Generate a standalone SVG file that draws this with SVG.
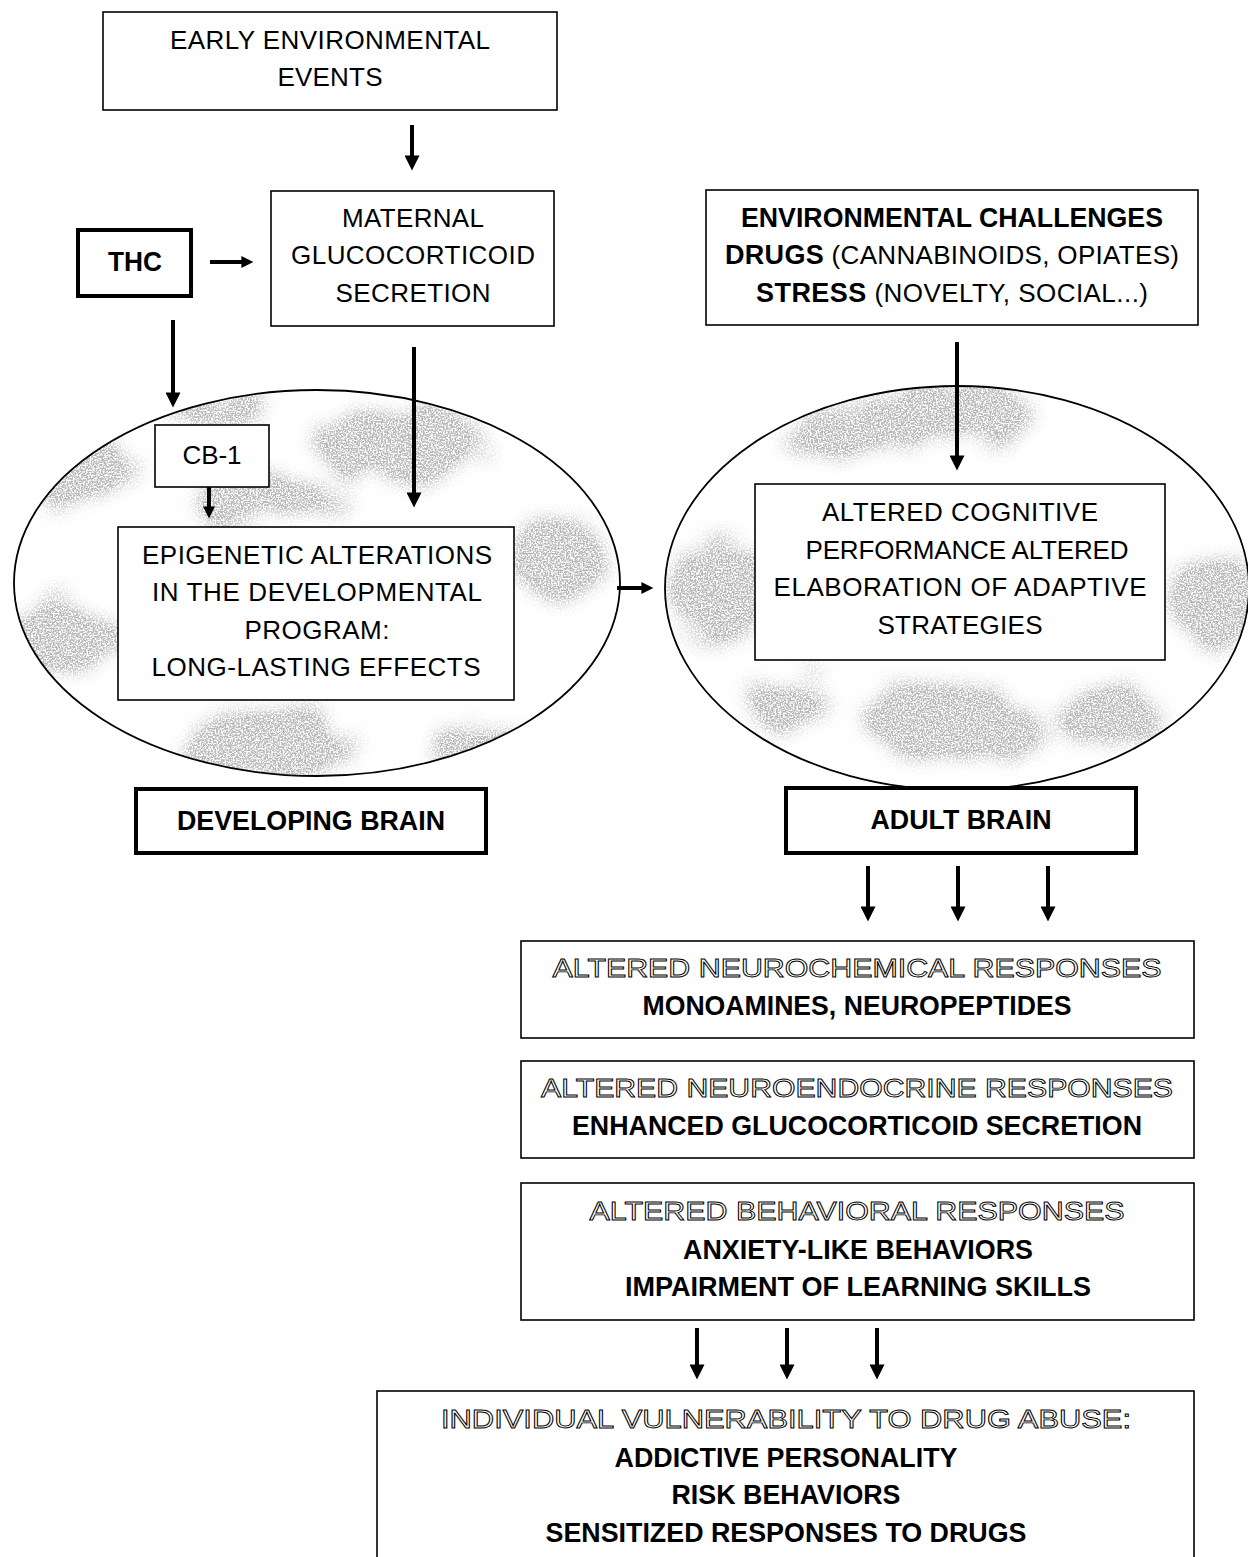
<svg xmlns="http://www.w3.org/2000/svg" width="1248" height="1557" viewBox="0 0 1248 1557">
<style>
.box{fill:#fff;stroke:#000;stroke-width:1.6}
.tbox{fill:#fff;stroke:#000;stroke-width:4}
text{font-family:"Liberation Sans",Arial,sans-serif;font-size:26px;fill:#000;text-anchor:middle}
.b{font-weight:bold;font-size:27px}
.o{fill:#fff;stroke:#000;stroke-width:0.9;font-size:25px}
.sh{stroke:#000;stroke-width:4;fill:none}
.ell{fill:none;stroke:#000;stroke-width:1.8}
.blot{fill:#666}
</style>
<defs>
<marker id="ah" viewBox="0 0 10 10" refX="3" refY="5" markerWidth="22" markerHeight="15" markerUnits="userSpaceOnUse" orient="auto"><path d="M0,0 L10,5 L0,10 z" fill="#000"/></marker>
<marker id="as" viewBox="0 0 10 10" refX="3" refY="5" markerWidth="16" markerHeight="12" markerUnits="userSpaceOnUse" orient="auto"><path d="M0,0 L10,5 L0,10 z" fill="#000"/></marker>
<filter id="speck" x="-10%" y="-10%" width="120%" height="120%">
<feTurbulence type="fractalNoise" baseFrequency="0.025 0.04" numOctaves="3" seed="11" result="warp"/>
<feDisplacementMap in="SourceGraphic" in2="warp" scale="60" xChannelSelector="R" yChannelSelector="G" result="d"/>
<feGaussianBlur in="d" stdDeviation="10" result="b"/>
<feComponentTransfer in="b" result="b2"><feFuncA type="linear" slope="1.8" intercept="0"/></feComponentTransfer>
<feTurbulence type="fractalNoise" baseFrequency="0.6" numOctaves="2" seed="5" result="n"/>
<feColorMatrix in="n" type="matrix" values="0 0 0 0 0.48  0 0 0 0 0.48  0 0 0 0 0.48  4 0 0 0 -1.4" result="nm"/>
<feComposite in="nm" in2="b2" operator="in"/>
</filter>
<clipPath id="cl"><ellipse cx="317" cy="583" rx="303" ry="193"/></clipPath>
<clipPath id="cr"><ellipse cx="957" cy="588" rx="292" ry="202"/></clipPath>
</defs>

<g id="developing-brain-ellipse">
<ellipse cx="317" cy="583" rx="303" ry="193" fill="#fff"/>
<g clip-path="url(#cl)"><g filter="url(#speck)" class="blot">
<ellipse cx="400" cy="445" rx="80" ry="32"/>
<ellipse cx="265" cy="500" rx="65" ry="20"/>
<ellipse cx="70" cy="470" rx="65" ry="24"/>
<ellipse cx="60" cy="640" rx="55" ry="30"/>
<ellipse cx="560" cy="560" rx="45" ry="38"/>
<ellipse cx="270" cy="745" rx="85" ry="28"/>
<ellipse cx="210" cy="405" rx="55" ry="12"/>
<ellipse cx="480" cy="745" rx="45" ry="18"/>
</g></g>
<ellipse class="ell" cx="317" cy="583" rx="303" ry="193"/>
</g>

<g id="adult-brain-ellipse">
<ellipse cx="957" cy="588" rx="292" ry="202" fill="#fff"/>
<g clip-path="url(#cr)"><g filter="url(#speck)" class="blot">
<ellipse cx="950" cy="415" rx="80" ry="26"/>
<ellipse cx="830" cy="440" rx="45" ry="16"/>
<ellipse cx="715" cy="590" rx="50" ry="42"/>
<ellipse cx="1210" cy="600" rx="45" ry="42"/>
<ellipse cx="950" cy="725" rx="85" ry="32"/>
<ellipse cx="1115" cy="715" rx="45" ry="22"/>
<ellipse cx="790" cy="700" rx="40" ry="18"/>
</g></g>
<ellipse class="ell" cx="957" cy="588" rx="292" ry="202"/>
</g>

<g id="connectors">
<line class="sh" x1="412" y1="125" x2="412" y2="160" marker-end="url(#ah)"/>
<line class="sh" x1="210" y1="262" x2="245" y2="262" marker-end="url(#as)"/>
<line class="sh" x1="173" y1="320" x2="173" y2="397" marker-end="url(#ah)"/>
<line class="sh" x1="414" y1="347" x2="414" y2="497" marker-end="url(#ah)"/>
<line class="sh" x1="209" y1="487" x2="209" y2="510" marker-end="url(#as)"/>
<line class="sh" x1="957" y1="342" x2="957" y2="460" marker-end="url(#ah)"/>
<line class="sh" x1="617" y1="588" x2="645" y2="588" marker-end="url(#as)"/>
<line class="sh" x1="868" y1="866" x2="868" y2="911" marker-end="url(#ah)"/>
<line class="sh" x1="958" y1="866" x2="958" y2="911" marker-end="url(#ah)"/>
<line class="sh" x1="1048" y1="866" x2="1048" y2="911" marker-end="url(#ah)"/>
<line class="sh" x1="697" y1="1328" x2="697" y2="1369" marker-end="url(#ah)"/>
<line class="sh" x1="787" y1="1328" x2="787" y2="1369" marker-end="url(#ah)"/>
<line class="sh" x1="877" y1="1328" x2="877" y2="1369" marker-end="url(#ah)"/>
</g>

<g id="early-environmental-events">
<rect class="box" x="103" y="12" width="454" height="98"/>
<text x="330" y="49" textLength="320">EARLY ENVIRONMENTAL</text>
<text x="330" y="86" textLength="105">EVENTS</text>
</g>

<g id="maternal-glucocorticoid">
<rect class="box" x="271" y="191" width="283" height="135"/>
<text x="413" y="227" textLength="142">MATERNAL</text>
<text x="413" y="264" textLength="244">GLUCOCORTICOID</text>
<text x="413" y="302" textLength="155">SECRETION</text>
</g>

<g id="thc">
<rect class="tbox" x="78" y="230" width="113" height="66"/>
<text class="b" x="135" y="271" textLength="54" lengthAdjust="spacingAndGlyphs">THC</text>
</g>

<g id="environmental-challenges">
<rect class="box" x="706" y="190" width="492" height="135"/>
<text class="b" x="952" y="227" textLength="422" lengthAdjust="spacingAndGlyphs">ENVIRONMENTAL CHALLENGES</text>
<text x="952" y="264" textLength="454"><tspan class="b">DRUGS</tspan> (CANNABINOIDS, OPIATES)</text>
<text x="952" y="302" textLength="392"><tspan class="b">STRESS</tspan> (NOVELTY, SOCIAL...)</text>
</g>

<g id="cb1">
<rect class="box" x="155" y="425" width="114" height="62"/>
<text x="212" y="464" textLength="59">CB-1</text>
</g>

<g id="epigenetic">
<rect class="box" x="118" y="527" width="396" height="173"/>
<text x="317" y="564" textLength="350">EPIGENETIC ALTERATIONS</text>
<text x="317" y="601" textLength="330">IN THE DEVELOPMENTAL</text>
<text x="317" y="639" textLength="145">PROGRAM:</text>
<text x="316" y="676" textLength="329">LONG-LASTING EFFECTS</text>
</g>

<g id="altered-cognitive">
<rect class="box" x="755" y="484" width="410" height="176"/>
<text x="960" y="521" textLength="276">ALTERED COGNITIVE</text>
<text x="967" y="559" textLength="323">PERFORMANCE ALTERED</text>
<text x="960" y="596" textLength="373">ELABORATION OF ADAPTIVE</text>
<text x="960" y="634" textLength="165">STRATEGIES</text>
</g>

<g id="developing-brain">
<rect class="tbox" x="136" y="789" width="350" height="64"/>
<text class="b" x="311" y="830" textLength="268" lengthAdjust="spacingAndGlyphs">DEVELOPING BRAIN</text>
</g>

<g id="adult-brain">
<rect class="tbox" x="786" y="788" width="350" height="65"/>
<text class="b" x="961" y="829" textLength="181" lengthAdjust="spacingAndGlyphs">ADULT BRAIN</text>
</g>

<g id="neurochemical">
<rect class="box" x="521" y="941" width="673" height="97"/>
<text class="o" x="857" y="977" textLength="609" lengthAdjust="spacingAndGlyphs">ALTERED NEUROCHEMICAL RESPONSES</text>
<text class="b" x="857" y="1015" textLength="429" lengthAdjust="spacingAndGlyphs">MONOAMINES, NEUROPEPTIDES</text>
</g>

<g id="neuroendocrine">
<rect class="box" x="521" y="1061" width="673" height="97"/>
<text class="o" x="857" y="1097" textLength="632" lengthAdjust="spacingAndGlyphs">ALTERED NEUROENDOCRINE RESPONSES</text>
<text class="b" x="857" y="1135" textLength="570" lengthAdjust="spacingAndGlyphs">ENHANCED GLUCOCORTICOID SECRETION</text>
</g>

<g id="behavioral">
<rect class="box" x="521" y="1183" width="673" height="137"/>
<text class="o" x="857" y="1220" textLength="535" lengthAdjust="spacingAndGlyphs">ALTERED BEHAVIORAL RESPONSES</text>
<text class="b" x="858" y="1259" textLength="350" lengthAdjust="spacingAndGlyphs">ANXIETY-LIKE BEHAVIORS</text>
<text class="b" x="858" y="1296" textLength="466" lengthAdjust="spacingAndGlyphs">IMPAIRMENT OF LEARNING SKILLS</text>
</g>

<g id="vulnerability">
<rect class="box" x="377" y="1391" width="817" height="180"/>
<text class="o" x="786" y="1428" textLength="690" lengthAdjust="spacingAndGlyphs">INDIVIDUAL VULNERABILITY TO DRUG ABUSE:</text>
<text class="b" x="786" y="1467" textLength="343" lengthAdjust="spacingAndGlyphs">ADDICTIVE PERSONALITY</text>
<text class="b" x="786" y="1504" textLength="229" lengthAdjust="spacingAndGlyphs">RISK BEHAVIORS</text>
<text class="b" x="786" y="1542" textLength="481" lengthAdjust="spacingAndGlyphs">SENSITIZED RESPONSES TO DRUGS</text>
</g>
</svg>
